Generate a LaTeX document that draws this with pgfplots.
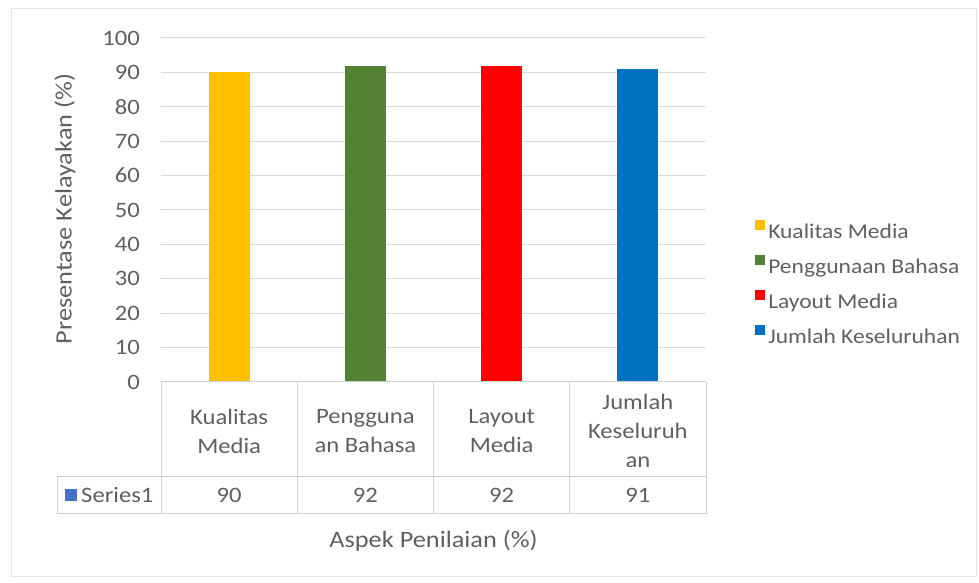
\documentclass[border=0pt]{standalone}
\usepackage{fontspec}
\setmainfont{Carlito}[FakeStretch=1.12]
\usepackage{pgfplots}
\pgfplotsset{compat=1.18}
\definecolor{txt}{HTML}{606060}
\definecolor{gridc}{HTML}{D9D9D9}
\definecolor{tbl}{HTML}{D0D0D0}
\definecolor{cY}{HTML}{FFC000}
\definecolor{cG}{HTML}{548235}
\definecolor{cR}{HTML}{FF0000}
\definecolor{cB}{HTML}{0070C0}
\definecolor{cS}{HTML}{4472C4}
\newcommand\fs{\fontsize{22bp}{29bp}\selectfont}
\newcommand\fl{\fontsize{21bp}{29bp}\selectfont}
\newcommand\ft{\fontsize{23.5bp}{28bp}\selectfont}
\begin{document}
\begin{tikzpicture}[x=1bp,y=1bp]
\useasboundingbox (0,0) rectangle (979,583);
\fill[white] (0,0) rectangle (979,583);
\draw[gray!20, line width=1bp] (11,6) rectangle (976,574);
\begin{axis}[
  at={(161bp,201bp)}, anchor=south west,
  scale only axis, width=545bp, height=344bp,
  xmin=-0.5, xmax=3.5, ymin=0, ymax=100,
  ytick={0,10,...,100},
  xtick={0,1,2,3},
  xticklabels={Kualitas\\Media, Pengguna\\an Bahasa, Layout\\Media, Jumlah\\Keseluruh\\an},
  xticklabel style={align=center, anchor=center, yshift=-49bp, font=\fs, text=txt},
  yticklabel style={anchor=east, inner sep=0pt, xshift=-21bp, font=\fs, text=txt},
  /pgf/number format/assume math mode=true,
  axis line style={draw=none},
  major tick length=0pt,
  ymajorgrids, grid style={gridc, line width=1bp},
  legend cell align=left,
  legend image code/.code={\fill[#1, draw=none] (0bp,2bp) rectangle (10bp,12bp);},
  legend style={at={(1.0900,0.4884)}, anchor=north west, draw=none, fill=none,
    inner sep=0pt, column sep=3bp, row sep=0pt,
    nodes={inner sep=0pt, text height=24bp, text depth=11bp, font=\fl, text=txt}},
]
\addplot[ybar, bar width=41bp, fill=cY, draw=none] coordinates {(0,90)};
\addlegendentry{Kualitas Media}
\addplot[ybar, bar width=41bp, fill=cG, draw=none] coordinates {(1,92)};
\addlegendentry{Penggunaan Bahasa}
\addplot[ybar, bar width=41bp, fill=cR, draw=none] coordinates {(2,92)};
\addlegendentry{Layout Media}
\addplot[ybar, bar width=41bp, fill=cB, draw=none] coordinates {(3,91)};
\addlegendentry{Jumlah Keseluruhan}
\end{axis}
% data table
\draw[tbl, line width=1bp] (161,201) -- (706,201);
\draw[tbl, line width=1bp] (57,106) -- (706,106);
\draw[tbl, line width=1bp] (57,69) -- (706,69);
\foreach \xx in {161,297.25,433.5,569.75,706} {\draw[tbl, line width=1bp] (\xx,201) -- (\xx,69);}
\draw[tbl, line width=1bp] (57,106) -- (57,69);
\fill[cS] (65,82) rectangle (77,94);
\node[anchor=base west, inner sep=0pt, font=\fs, text=txt] at (81,80.5) {Series1};
\node[anchor=base, inner sep=0pt, font=\fs, text=txt] at (229.1,80.5) {90};
\node[anchor=base, inner sep=0pt, font=\fs, text=txt] at (365.4,80.5) {92};
\node[anchor=base, inner sep=0pt, font=\fs, text=txt] at (501.6,80.5) {92};
\node[anchor=base, inner sep=0pt, font=\fs, text=txt] at (637.9,80.5) {91};
% axis titles
\node[rotate=90, inner sep=0pt, font=\ft, text=txt] at (65,374) {Presentase Kelayakan (\%)};
\node[anchor=base, inner sep=0pt, font=\ft, text=txt] at (433.5,35) {Aspek Penilaian (\%)};
\end{tikzpicture}
\end{document}
